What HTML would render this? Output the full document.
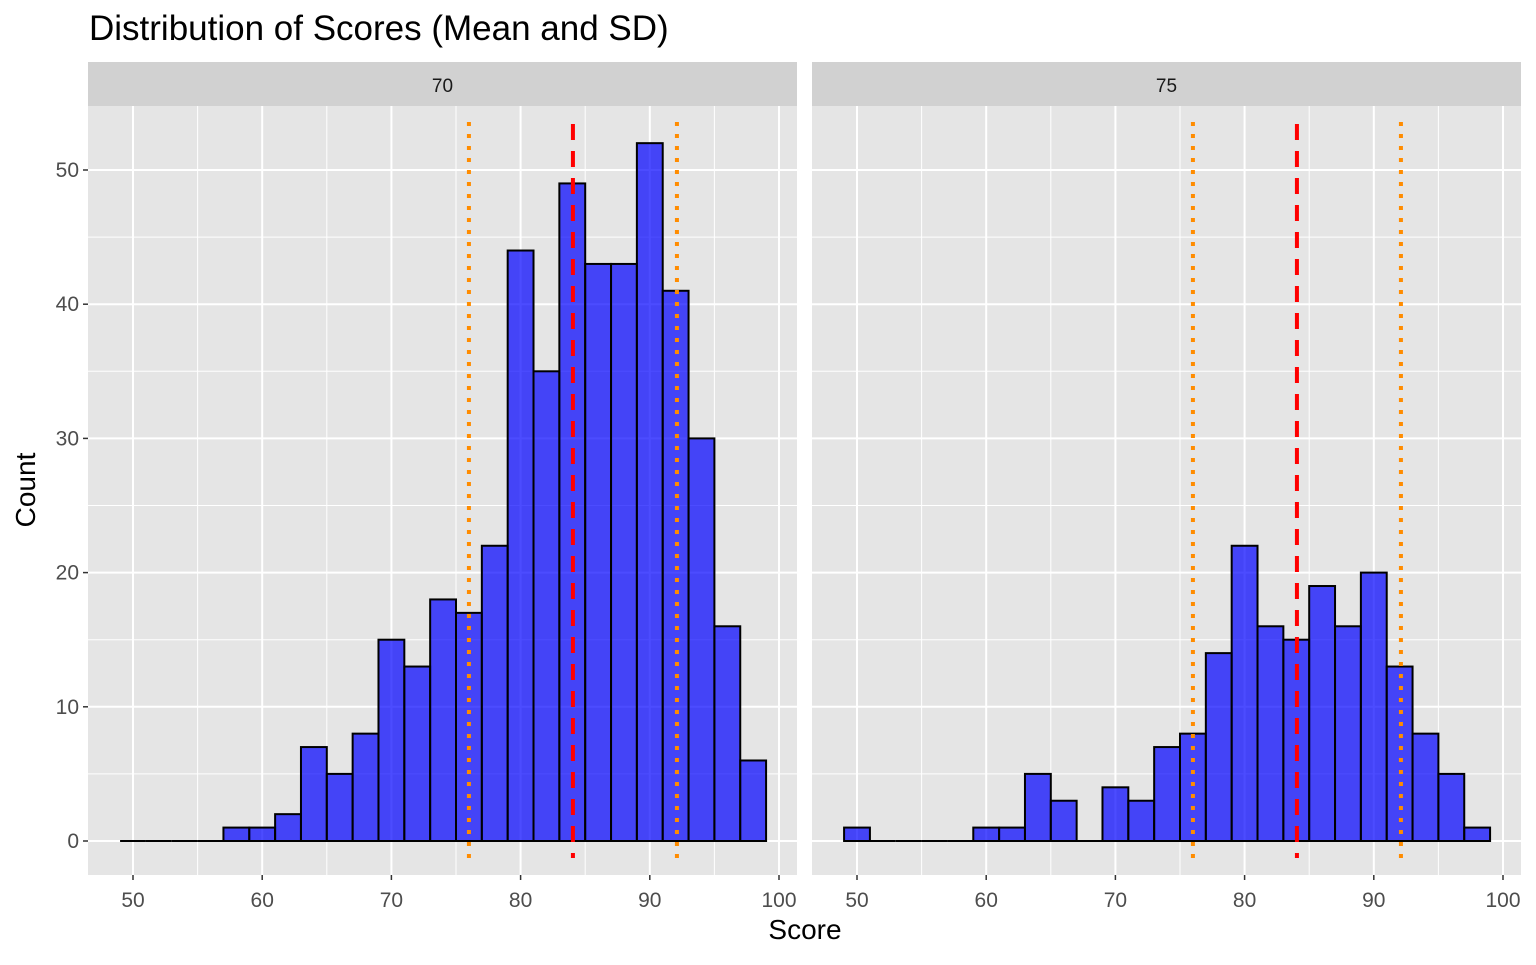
<!DOCTYPE html>
<html><head><meta charset="utf-8"><style>
body{margin:0;background:#fff;font-family:"Liberation Sans",Arial,sans-serif}
</style></head><body>
<svg id="chart" width="1536" height="960" xmlns="http://www.w3.org/2000/svg" font-family="Liberation Sans, Arial, sans-serif"></svg>
<script>
const binStarts=[49,51,53,55,57,59,61,63,65,67,69,71,73,75,77,79,81,83,85,87,89,91,93,95,97];
const countsA=[0,0,0,0,1,1,2,7,5,8,15,13,18,17,22,44,35,49,43,43,52,41,30,16,6];
const countsB=[1,0,0,0,0,1,1,5,3,0,4,3,7,8,14,22,16,15,19,16,20,13,8,5,1];
const panelLabels=["70","75"];
const xTicks=[50,60,70,80,90,100];
const yTicks=[0,10,20,30,40,50];
const meanVal=84.05, sdVal=8.05, binWidth=2;

const svg=document.getElementById('chart');
const NS='http://www.w3.org/2000/svg';
function mk(t,a,p){const e=document.createElementNS(NS,t);for(const k in a)e.setAttribute(k,a[k]);(p||svg).appendChild(e);return e;}
const panels=[{x0:88,x1:797,counts:countsA},{x0:812,x1:1521,counts:countsB}];
const yTop=106,yBot=875;
const y=v=>841-v*13.42;

panels.forEach((p,i)=>{
  const x=v=>p.x0+45+(v-50)*12.92;
  const g=mk('g',{});
  
  
  mk('rect',{x:p.x0,y:yTop,width:p.x1-p.x0,height:yBot-yTop,fill:'#e5e5e5'},g);
  const strip=mk('rect',{x:p.x0,y:62,width:p.x1-p.x0,height:44,fill:'#d1d1d1'},g);
  
  
  const st=mk('text',{x:(p.x0+p.x1)/2,y:92,'text-anchor':'middle','font-size':19,fill:'#1a1a1a'},g);
  st.textContent=panelLabels[i];
  
  
  for(let v=45;v<=105;v+=5){const X=x(v);if(X<p.x0||X>p.x1)continue;
    mk('line',{x1:X,x2:X,y1:yTop,y2:yBot,stroke:'#fff','stroke-width':v%10?1:2},g);}
  for(let v=-5;v<=55;v+=5){const Y=y(v);if(Y<yTop||Y>yBot)continue;
    mk('line',{x1:p.x0,x2:p.x1,y1:Y,y2:Y,stroke:'#fff','stroke-width':v%10?1:2},g);}
  binStarts.forEach((b,j)=>{
    let r;
    if(p.counts[j]===0){
      r=mk('line',{x1:x(b),x2:x(b+binWidth),y1:y(0),y2:y(0),stroke:'#000','stroke-width':2},g);
    } else {
      r=mk('rect',{x:x(b),y:y(p.counts[j]),width:x(b+binWidth)-x(b),height:y(0)-y(p.counts[j]),fill:'rgba(0,0,255,0.7)',stroke:'#000','stroke-width':2},g);
    }
    
    
  });
  [meanVal-sdVal,meanVal+sdVal].forEach(v=>{
    const l=mk('line',{x1:x(v),x2:x(v),y1:122,y2:yBot-17,stroke:'#ff8c00','stroke-width':4,'stroke-dasharray':'4 8'},g);
    
    
  });
  const m=mk('line',{x1:x(meanVal),x2:x(meanVal),y1:124,y2:yBot-17,stroke:'#ff0000','stroke-width':4,'stroke-dasharray':'16 11'},g);
  
  
  xTicks.forEach(v=>{const X=x(v);
    mk('line',{x1:X,x2:X,y1:yBot,y2:yBot+5,stroke:'#333','stroke-width':1.5},g);
    const t=mk('text',{x:X,y:907,'text-anchor':'middle','font-size':21,fill:'#4d4d4d'},g);
    t.textContent=v;
    
    });
});
yTicks.forEach(v=>{const Y=y(v);
  mk('line',{x1:83,x2:88,y1:Y,y2:Y,stroke:'#333','stroke-width':1.5});
  const t=mk('text',{x:79,y:Y+7,'text-anchor':'end','font-size':21,fill:'#4d4d4d'});
  t.textContent=v;
  
  });
const title=mk('text',{x:89,y:40,'font-size':35,fill:'#000'});title.textContent='Distribution of Scores (Mean and SD)';


const xl=mk('text',{x:805,y:939,'text-anchor':'middle','font-size':28,fill:'#000'});xl.textContent='Score';


const yl=mk('text',{x:0,y:0,'text-anchor':'middle','font-size':28,fill:'#000',transform:'translate(35,490) rotate(-90)'});yl.textContent='Count';


</script>
</body></html>
